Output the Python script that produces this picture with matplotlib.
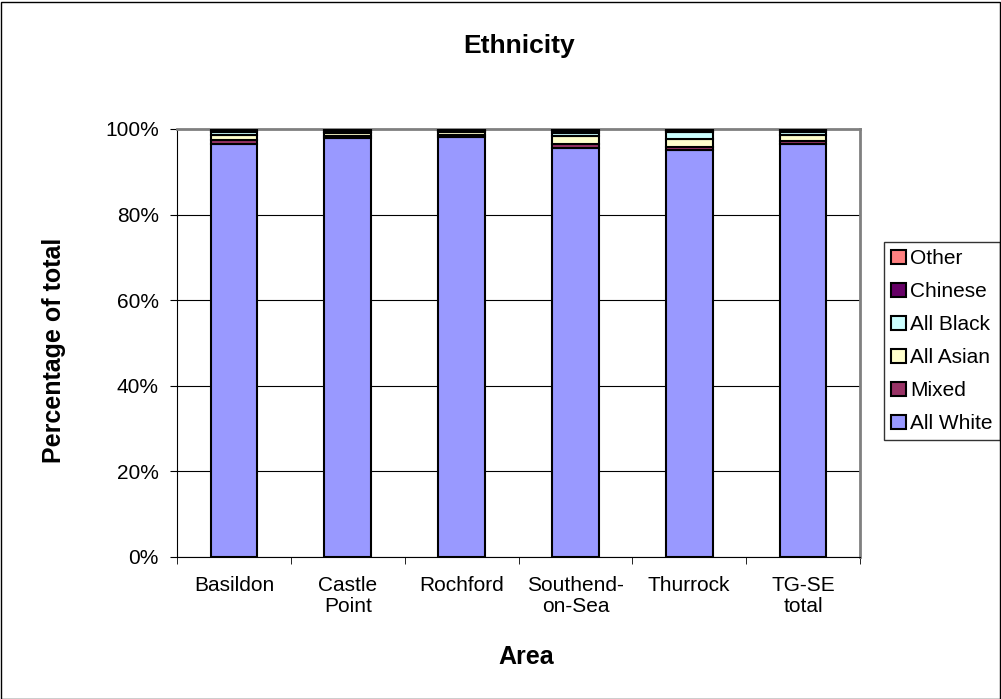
import numpy as np
import matplotlib.pyplot as plt
from matplotlib.patches import Rectangle

plt.rcParams['font.family'] = ['Liberation Sans', 'DejaVu Sans']

areas = ["Basildon", "Castle\nPoint", "Rochford", "Southend-\non-Sea", "Thurrock", "TG-SE\ntotal"]
white = [96.6, 97.9, 98.1, 95.5, 95.1, 96.4]
mixed = [0.8, 0.5, 0.5, 0.9, 0.8, 0.8]
asian = [1.3, 0.7, 0.6, 1.9, 1.7, 1.4]
black = [0.5, 0.3, 0.3, 0.8, 1.7, 0.8]
chinese = [0.3, 0.3, 0.2, 0.4, 0.3, 0.3]
other = [0.5, 0.3, 0.3, 0.5, 0.4, 0.3]

series = [("All White", white, "#9999FF"),
          ("Mixed", mixed, "#993366"),
          ("All Asian", asian, "#FFFFCC"),
          ("All Black", black, "#CCFFFF"),
          ("Chinese", chinese, "#660066"),
          ("Other", other, "#FF8080")]

W, H = 1001, 699
fig = plt.figure(figsize=(W/100, H/100), dpi=100)
ax = fig.add_axes([177/W, 1-557/H, (860-177)/W, (557-129)/H])

x = np.arange(len(areas))
totals = np.array([sum(s[1][i] for s in series) for i in range(len(areas))])
bottom = np.zeros(len(areas))
handles = []
for name, vals, col in series:
    pct = np.array(vals) / totals * 100
    h = ax.bar(x, pct, 0.41, bottom=bottom, color=col, edgecolor="black",
               linewidth=1.5, label=name, zorder=3)
    bottom += pct
    handles.append(h)

ax.set_xlim(-0.5, len(areas) - 0.5)
ax.set_ylim(0, 100)
ax.set_yticks(np.arange(0, 101, 20))
ax.set_yticklabels([f"{v}%" for v in range(0, 101, 20)], fontsize=15)
ax.set_xticks(x)
ax.set_xticklabels(areas, fontsize=15, linespacing=1.1)
ax.set_xticks(np.arange(-0.5, len(areas)), minor=True)
ax.tick_params(axis='x', which='major', length=0, pad=14)
ax.tick_params(axis='x', which='minor', length=5, direction='out')
ax.tick_params(axis='y', length=5, direction='out', pad=8)
ax.yaxis.grid(True, color="black", linewidth=0.8, zorder=0)
for s in ["top", "right"]:
    ax.spines[s].set_color("#808080")
    ax.spines[s].set_linewidth(2)

fig.text(519/W, 1-53/H, "Ethnicity", fontsize=19, fontweight="bold", ha="center", va="baseline")
fig.text(526/W, 1-664/H, "Area", fontsize=18, fontweight="bold", ha="center", va="baseline")
fig.text(54/W, 1-350/H, "Percentage of total", fontsize=18, fontweight="bold",
         rotation=90, ha="center", va="center")

leg = ax.legend(handles[::-1], [s[0] for s in series][::-1], loc="upper left",
                bbox_to_anchor=(884/W, 1-242/H), bbox_transform=fig.transFigure,
                fontsize=15, frameon=True, fancybox=False, edgecolor="black",
                handlelength=0.7, handleheight=0.7, handletextpad=0.2,
                labelspacing=0.67, borderpad=0.35, borderaxespad=0)
leg.get_frame().set_linewidth(1)

fig.patches.append(Rectangle((0.5/W, 0.5/H), 999/W, 697/H, transform=fig.transFigure,
                             fill=False, edgecolor="black", linewidth=1))

plt.savefig("out.png", dpi=100)
